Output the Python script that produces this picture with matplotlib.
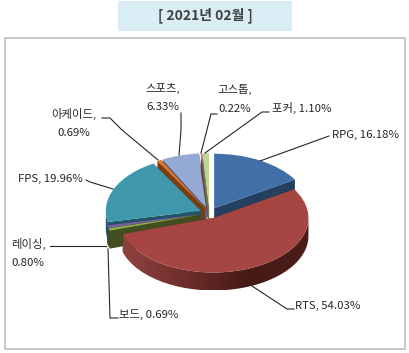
import numpy as np
import matplotlib
matplotlib.use('Agg')
import matplotlib.pyplot as plt
from matplotlib.colors import LinearSegmentedColormap
from matplotlib.patches import Polygon, Rectangle

plt.rcParams['font.family'] = ['Noto Sans CJK KR', 'DejaVu Sans']

# data
names = ['RPG', 'RTS', '보드', '레이싱', 'FPS', '아케이드', '스포츠', '고스톱', '포커']
values = [16.18, 54.03, 0.69, 0.80, 19.96, 0.69, 6.33, 0.22, 1.10]

# styles
top_colors = ['#4170a8', '#a64642', '#8cb04a', '#7b5fa2', '#3f97ae', '#da772a', '#94a9d3', '#c47c78', '#bdd597']
wall_colors = ['#234061', '#5a211d', '#414f20', '#46366b', '#1f5567', '#7a3d10', '#55648a', '#6e3533', '#6c7c4a']
draw_order = [0, 6, 7, 8, 5, 4, 3, 2, 1]
explode = 0.1

# label positions in pixels: x, y, ha
label_pos = [(332, 135, 'left'), (295, 306, 'left'), (119, 315, 'left'), (28, 253, 'center'),
             (18, 179, 'left'), (74, 123, 'center'), (163, 97.5, 'center'), (235, 99, 'center'), (272, 108, 'left')]
two_lines = [3, 5, 6, 7]
leaders = [[(329, 136), (260, 161)],
           [(294, 309), (287, 309), (252, 286)],
           [(118, 318), (110, 318), (108, 249)],
           [(50, 246), (106, 246)],
           [(86, 180), (90, 182), (113, 189)],
           [(102, 118), (110, 118), (122, 130), (158, 160)],
           [(181, 113), (181, 130), (179, 155)],
           [(217, 114), (211, 114), (201, 153)],
           [(269, 112), (262, 112), (205, 153)]]

W, H = 409, 353
cx, cy, rx, ry = 209.5, 213, 95, 54.5
depth = 18 / ry

fig = plt.figure(figsize=(W / 100, H / 100), dpi=100, facecolor='white')

# pie axes: one data unit is rx px across and ry px down, so the pie comes out flattened
ax = fig.add_axes([0, 0, 1, 1])
wedges, _ = ax.pie(values, colors=top_colors, startangle=90, counterclock=False,
                   explode=[explode] * len(values), frame=True,
                   wedgeprops=dict(linewidth=0))
ax.set_aspect('auto')
ax.axis('off')
ax.patch.set_alpha(0)

edges = np.cumsum([0] + values) * 3.6
rts_cmap = LinearSegmentedColormap.from_list('rts', ['#8f4240', '#6e2e2b', '#451a17', '#4c1d1a'])


def rim_point(i, t, r=1.0):
    mid = np.radians((edges[i] + edges[i + 1]) / 2)
    a = np.radians(t)
    return explode * np.sin(mid) + r * np.sin(a), explode * np.cos(mid) + r * np.cos(a)


for z, i in enumerate(draw_order):
    wedges[i].set_zorder(10 + 2 * z + 1)
    wall_z = 10 + 2 * z
    # flat cut faces
    for t in (edges[i], edges[i + 1]):
        x0, y0 = rim_point(i, t, 0)
        x1, y1 = rim_point(i, t)
        ax.add_patch(Polygon([(x0, y0), (x1, y1), (x1, y1 - depth), (x0, y0 - depth)],
                             facecolor=wall_colors[i], edgecolor='none', zorder=wall_z))
    # outer rim, only the part turned towards the viewer
    lo, hi = max(edges[i], 90), min(edges[i + 1], 270)
    if hi > lo:
        steps = np.linspace(lo, hi, 120)
        px, py = rim_point(i, steps)
        outline = np.r_[np.c_[px, py], np.c_[px[::-1], py[::-1] - depth]]
        if i == 1:
            # RTS rim goes darker from left to right
            poly = Polygon(outline, facecolor='none', edgecolor='none', transform=ax.transData)
            ax.add_patch(poly)
            img = ax.imshow(np.linspace(0, 1, 256)[None, :], cmap=rts_cmap, aspect='auto',
                            extent=(px.min(), px.max(), py.min() - depth, py.max()), zorder=wall_z)
            img.set_clip_path(poly)
        else:
            ax.add_patch(Polygon(outline, facecolor=wall_colors[i], edgecolor='none', zorder=wall_z))

ax.set_xlim(-cx / rx, (W - cx) / rx)
ax.set_ylim((cy - H) / ry, cy / ry)

# overlay in pixels for the frame, title and labels
ov = fig.add_axes([0, 0, 1, 1], zorder=5)
ov.set_xlim(0, W)
ov.set_ylim(H, 0)
ov.axis('off')
ov.patch.set_alpha(0)

ov.add_patch(Rectangle((118, 1), 174, 30, facecolor='#daedf4', edgecolor='none'))
ov.add_patch(Rectangle((4.5, 38), 400, 311, facecolor='none', edgecolor='#bfbfbf', linewidth=1.2))
ov.text(205, 15, '[ 2021년 02월 ]', ha='center', va='center', fontsize=10,
        fontweight='bold', color='#404040')

for i, name in enumerate(names):
    sep = ',\n' if i in two_lines else ', '
    x, y, ha = label_pos[i]
    ov.text(x, y, f'{name}{sep}{values[i]:.2f}%', ha=ha, va='center', fontsize=8.2,
            color='#262626', linespacing=2.1)
    xs, ys = zip(*leaders[i])
    ov.plot(xs, ys, color='#262626', linewidth=0.8)

fig.savefig('out.png', dpi=100)
